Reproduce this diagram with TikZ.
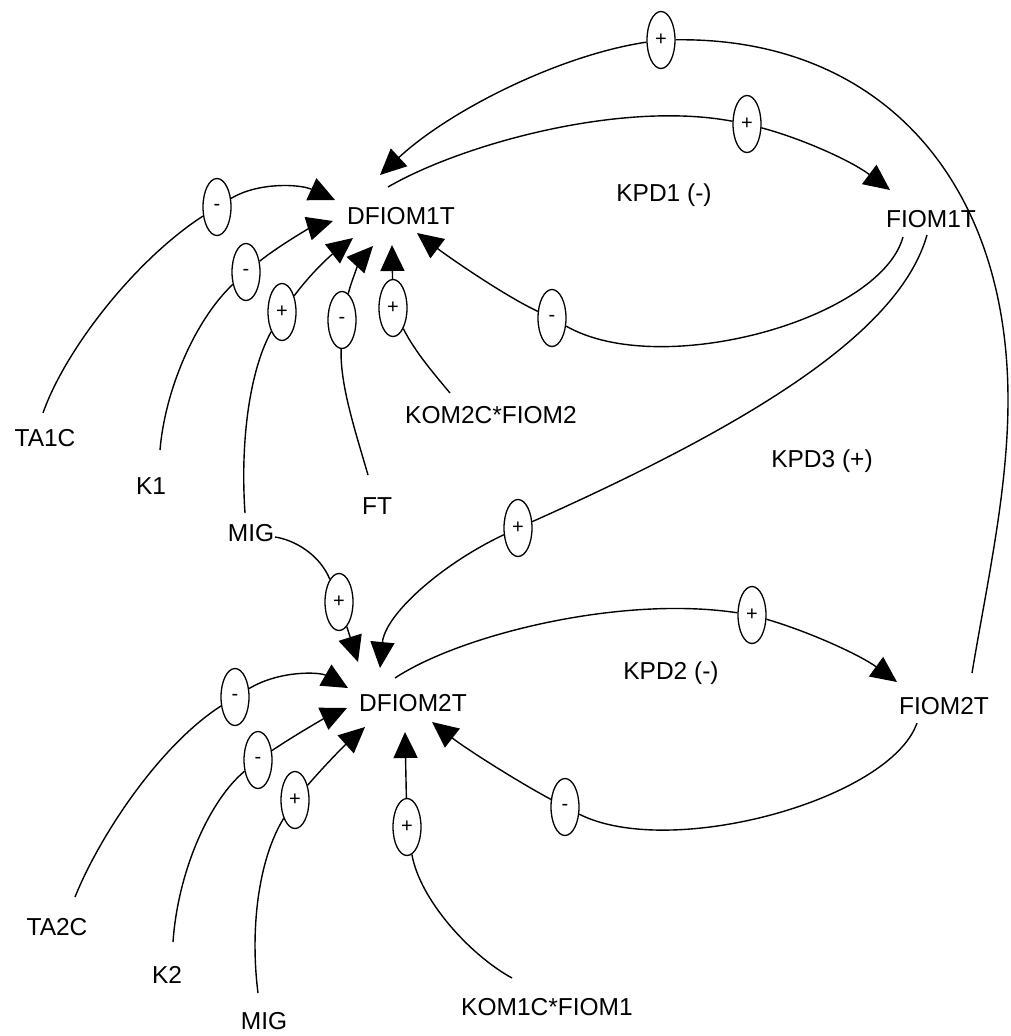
\documentclass[tikz,border=0pt]{standalone}
\usepackage{fontspec}
\setmainfont{Liberation Sans}
\usetikzlibrary{arrows.meta,shapes.geometric,calc}
\begin{document}
\begin{tikzpicture}[x=1bp,y=-1bp,
  lbl/.style={font=\fontsize{24.5bp}{29bp}\selectfont, inner sep=0pt, text height=17.6bp, text depth=0bp},
  sgn/.style={ellipse, draw, line width=1.3bp, minimum width=28bp, minimum height=57bp, inner sep=0pt, font=\fontsize{20bp}{22bp}\selectfont},
  lnk/.style={line width=1.4bp},
  arr/.style={lnk, -{Triangle[length=26bp,width=24bp]}}]
\fill[white] (0,0) rectangle (1011,1036);
% variables
\node[lbl] (d1) at (401,216) {DFIOM1T};
\node[lbl] (kpd1) at (664,193) {KPD1 (-)};
\node[lbl] (f1) at (931,219) {FIOM1T};
\node[lbl] (ta1) at (45,438) {TA1C};
\node[lbl] (k1) at (151,486) {K1};
\node[lbl] (kom2) at (491,415) {KOM2C*FIOM2};
\node[lbl] (kpd3) at (822,459) {KPD3 (+)};
\node[lbl] (ft) at (377,506) {FT};
\node[lbl] (mig1) at (251,533) {MIG};
\node[lbl] (d2) at (413,703) {DFIOM2T};
\node[lbl] (kpd2) at (671,671) {KPD2 (-)};
\node[lbl] (f2) at (944,706) {FIOM2T};
\node[lbl] (ta2) at (57,927) {TA2C};
\node[lbl] (k2) at (167,975) {K2};
\node[lbl] (mig2) at (264,1021) {MIG};
\node[lbl] (kom1) at (547,1007) {KOM1C*FIOM1};
% polarity markers
\node[sgn] (e1) at (217,207) {-};
\node[sgn] (e2) at (246,272) {-};
\node[sgn] (e3) at (282,312) {+};
\node[sgn] (e4) at (342,320) {-};
\node[sgn] (e5) at (393,308) {+};
\node[sgn] (e6) at (661,40) {+};
\node[sgn] (e7) at (747,124) {+};
\node[sgn] (e8) at (552,318) {-};
\node[sgn] (e9) at (518,528) {+};
\node[sgn] (e10) at (339,602) {+};
\node[sgn] (e11) at (235,697) {-};
\node[sgn] (e12) at (258,760) {-};
\node[sgn] (e13) at (295,800) {+};
\node[sgn] (e14) at (407,827) {+};
\node[sgn] (e15) at (752,615) {+};
\node[sgn] (e16) at (565,807) {-};
% connectors into DFIOM1T
\draw[lnk] ($(ta1)+(-2,-25)$) .. controls (65,350) and (135,260) .. (e1);
\draw[arr] (e1) .. controls (258,182) and (300,184) .. ($(d1)+(-66,-16)$);
\draw[lnk] ($(k1)+(9,-36)$) .. controls (165,390) and (195,320) .. (e2);
\draw[arr] (e2) .. controls (280,245) and (310,228) .. ($(d1)+(-68,5)$);
\draw[lnk] ($(mig1)+(-6,-20)$) .. controls (240,440) and (250,370) .. (e3);
\draw[arr] (e3) .. controls (315,268) and (335,252) .. ($(d1)+(-48,22)$);
\draw[lnk] ($(ft)+(-9,-31)$) .. controls (355,430) and (340,385) .. (e4);
\draw[arr] (e4) .. controls (352,278) and (362,258) .. ($(d1)+(-28,30)$);
\draw[lnk] ($(kom2)+(-41,-22)$) .. controls (435,375) and (415,352) .. (e5);
\draw[arr] (e5) -- ($(d1)+(-9,29)$);
\draw[lnk] ($(f2)+(28,-33)$) .. controls (987,583) and (1008,490) .. (1008,400) .. controls (1008,180) and (880,37) .. (e6);
\draw[arr] (e6) .. controls (560,55) and (450,110) .. ($(d1)+(-21,-41)$);
% KPD1 loop
\draw[lnk] ($(d1)+(-13,-29)$) .. controls (460,145) and (620,100) .. (e7);
\draw[arr] (e7) .. controls (800,138) and (850,160) .. ($(f1)+(-41,-29)$);
\draw[lnk] ($(f1)+(-28,18)$) .. controls (880,320) and (660,380) .. (e8);
\draw[arr] (e8) .. controls (505,296) and (450,258) .. ($(d1)+(16,17)$);
% KPD3
\draw[lnk] ($(f1)+(-4,16)$) .. controls (900,330) and (760,420) .. (e9);
\draw[arr] (e9) .. controls (440,565) and (385,615) .. ($(d2)+(-33,-35)$);
% connectors into DFIOM2T
\draw[lnk] ($(mig1)+(24,4)$) .. controls (295,540) and (320,555) .. (e10);
\draw[arr] (e10) -- ($(d2)+(-55,-41)$);
\draw[lnk] ($(ta2)+(18,-30)$) .. controls (100,835) and (160,745) .. (e11);
\draw[arr] (e11) .. controls (280,670) and (320,672) .. ($(d2)+(-65,-15)$);
\draw[lnk] ($(k2)+(6,-33)$) .. controls (178,870) and (210,800) .. (e12);
\draw[arr] (e12) .. controls (295,735) and (325,718) .. ($(d2)+(-66,5)$);
\draw[lnk] ($(mig2)+(-6,-28)$) .. controls (250,930) and (258,860) .. (e13);
\draw[arr] (e13) .. controls (325,765) and (345,745) .. ($(d2)+(-48,24)$);
\draw[lnk] ($(kom1)+(-35,-29)$) .. controls (470,955) and (420,900) .. (e14);
\draw[arr] (e14) -- ($(d2)+(-8,29)$);
% KPD2 loop
\draw[lnk] ($(d2)+(-18,-25)$) .. controls (460,635) and (620,595) .. (e15);
\draw[arr] (e15) .. controls (810,632) and (860,655) .. ($(f2)+(-47,-24)$);
\draw[lnk] ($(f2)+(-27,17)$) .. controls (890,800) and (670,860) .. (e16);
\draw[arr] (e16) .. controls (515,780) and (465,748) .. ($(d2)+(19,19)$);
\end{tikzpicture}
\end{document}
